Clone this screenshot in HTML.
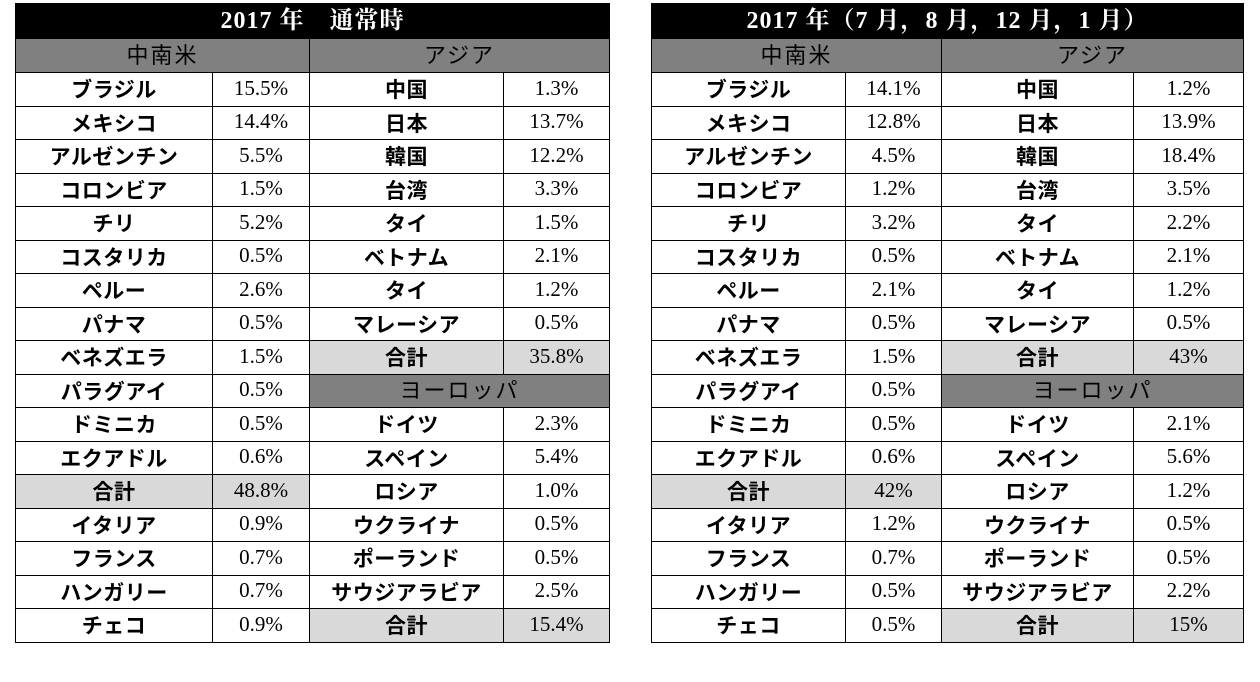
<!DOCTYPE html>
<html><head><meta charset="utf-8"><style>
body{margin:0;width:1260px;height:682px;background:#fff;position:relative;overflow:hidden}
table{position:absolute;top:3px;border-collapse:collapse;table-layout:fixed}
tr{height:33.5px}
td{border:1.5px solid #000;padding:0;text-align:center;vertical-align:middle;font-size:21px;line-height:22px;white-space:nowrap;overflow:hidden}
td.n{font-family:"Liberation Sans","Noto Sans CJK JP",sans-serif;font-weight:bold;letter-spacing:0.5px;padding-top:4px}
td.v{font-family:"Liberation Serif","Noto Serif CJK SC",serif;padding-bottom:3px}
tr.t{height:35px}
tr.t td{background:#000;color:#fff;font-family:"Liberation Serif","Noto Serif CJK SC",serif;font-weight:bold;font-size:24px;letter-spacing:1px;padding:0}
tr.s{height:34px}
td.h{background:#808080;font-family:"Liberation Sans","Noto Sans CJK JP",sans-serif;font-size:22px;letter-spacing:2px;padding:1px 0 0 0}
td.g{background:#d9d9d9}
</style></head><body>
<table style="left:15px;width:594px">
<colgroup><col style="width:197px"><col style="width:97px"><col style="width:194px"><col style="width:106px"></colgroup>
<tr class="t"><td colspan="4">2017 年　通常時</td></tr>
<tr class="s"><td class="h" colspan="2">中南米</td><td class="h" colspan="2">アジア</td></tr>
<tr><td class="n">ブラジル</td><td class="v">15.5%</td><td class="n">中国</td><td class="v">1.3%</td></tr>
<tr><td class="n">メキシコ</td><td class="v">14.4%</td><td class="n">日本</td><td class="v">13.7%</td></tr>
<tr><td class="n">アルゼンチン</td><td class="v">5.5%</td><td class="n">韓国</td><td class="v">12.2%</td></tr>
<tr><td class="n">コロンビア</td><td class="v">1.5%</td><td class="n">台湾</td><td class="v">3.3%</td></tr>
<tr><td class="n">チリ</td><td class="v">5.2%</td><td class="n">タイ</td><td class="v">1.5%</td></tr>
<tr><td class="n">コスタリカ</td><td class="v">0.5%</td><td class="n">ベトナム</td><td class="v">2.1%</td></tr>
<tr><td class="n">ペルー</td><td class="v">2.6%</td><td class="n">タイ</td><td class="v">1.2%</td></tr>
<tr><td class="n">パナマ</td><td class="v">0.5%</td><td class="n">マレーシア</td><td class="v">0.5%</td></tr>
<tr><td class="n">ベネズエラ</td><td class="v">1.5%</td><td class="n g">合計</td><td class="v g">35.8%</td></tr>
<tr><td class="n">パラグアイ</td><td class="v">0.5%</td><td class="h" colspan="2">ヨーロッパ</td></tr>
<tr><td class="n">ドミニカ</td><td class="v">0.5%</td><td class="n">ドイツ</td><td class="v">2.3%</td></tr>
<tr><td class="n">エクアドル</td><td class="v">0.6%</td><td class="n">スペイン</td><td class="v">5.4%</td></tr>
<tr><td class="n g">合計</td><td class="v g">48.8%</td><td class="n">ロシア</td><td class="v">1.0%</td></tr>
<tr><td class="n">イタリア</td><td class="v">0.9%</td><td class="n">ウクライナ</td><td class="v">0.5%</td></tr>
<tr><td class="n">フランス</td><td class="v">0.7%</td><td class="n">ポーランド</td><td class="v">0.5%</td></tr>
<tr><td class="n">ハンガリー</td><td class="v">0.7%</td><td class="n">サウジアラビア</td><td class="v">2.5%</td></tr>
<tr><td class="n">チェコ</td><td class="v">0.9%</td><td class="n g">合計</td><td class="v g">15.4%</td></tr>
</table>
<table style="left:651px;width:592px">
<colgroup><col style="width:194px"><col style="width:96px"><col style="width:192px"><col style="width:110px"></colgroup>
<tr class="t"><td colspan="4">2017 年（7 月，8 月，12 月，1 月）</td></tr>
<tr class="s"><td class="h" colspan="2">中南米</td><td class="h" colspan="2">アジア</td></tr>
<tr><td class="n">ブラジル</td><td class="v">14.1%</td><td class="n">中国</td><td class="v">1.2%</td></tr>
<tr><td class="n">メキシコ</td><td class="v">12.8%</td><td class="n">日本</td><td class="v">13.9%</td></tr>
<tr><td class="n">アルゼンチン</td><td class="v">4.5%</td><td class="n">韓国</td><td class="v">18.4%</td></tr>
<tr><td class="n">コロンビア</td><td class="v">1.2%</td><td class="n">台湾</td><td class="v">3.5%</td></tr>
<tr><td class="n">チリ</td><td class="v">3.2%</td><td class="n">タイ</td><td class="v">2.2%</td></tr>
<tr><td class="n">コスタリカ</td><td class="v">0.5%</td><td class="n">ベトナム</td><td class="v">2.1%</td></tr>
<tr><td class="n">ペルー</td><td class="v">2.1%</td><td class="n">タイ</td><td class="v">1.2%</td></tr>
<tr><td class="n">パナマ</td><td class="v">0.5%</td><td class="n">マレーシア</td><td class="v">0.5%</td></tr>
<tr><td class="n">ベネズエラ</td><td class="v">1.5%</td><td class="n g">合計</td><td class="v g">43%</td></tr>
<tr><td class="n">パラグアイ</td><td class="v">0.5%</td><td class="h" colspan="2">ヨーロッパ</td></tr>
<tr><td class="n">ドミニカ</td><td class="v">0.5%</td><td class="n">ドイツ</td><td class="v">2.1%</td></tr>
<tr><td class="n">エクアドル</td><td class="v">0.6%</td><td class="n">スペイン</td><td class="v">5.6%</td></tr>
<tr><td class="n g">合計</td><td class="v g">42%</td><td class="n">ロシア</td><td class="v">1.2%</td></tr>
<tr><td class="n">イタリア</td><td class="v">1.2%</td><td class="n">ウクライナ</td><td class="v">0.5%</td></tr>
<tr><td class="n">フランス</td><td class="v">0.7%</td><td class="n">ポーランド</td><td class="v">0.5%</td></tr>
<tr><td class="n">ハンガリー</td><td class="v">0.5%</td><td class="n">サウジアラビア</td><td class="v">2.2%</td></tr>
<tr><td class="n">チェコ</td><td class="v">0.5%</td><td class="n g">合計</td><td class="v g">15%</td></tr>
</table>
</body></html>
